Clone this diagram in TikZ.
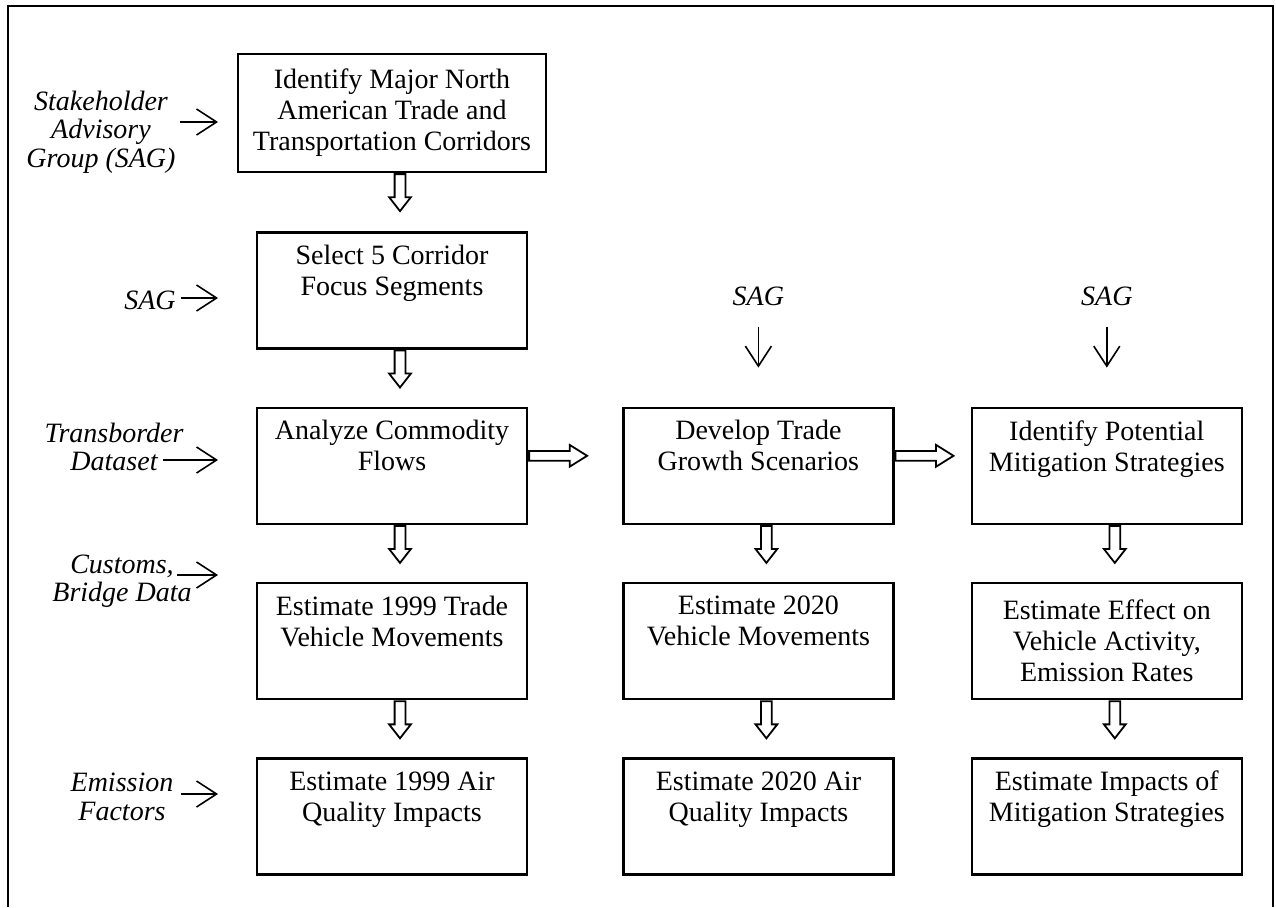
\documentclass[tikz,border=0pt]{standalone}
\usepackage{fontspec}
\setmainfont{Liberation Serif}
\usetikzlibrary{arrows.meta, positioning, shapes.arrows}

\begin{document}
\begin{tikzpicture}[x=0.5pt, y=-0.5pt, node distance=28.5pt and 47pt,
  box/.style={draw, line width=1.2pt, align=center, minimum width=135pt, minimum height=58pt, inner sep=2pt, font=\fontsize{14}{15.5}\selectfont},
  lab/.style={align=center, inner sep=0pt, font=\fontsize{14}{14.3}\selectfont\itshape},
  feed/.style={line width=0.8pt, -{Straight Barb[length=10pt, width=13pt]}},
  down/.style={single arrow, draw, fill=white, line width=0.9pt, inner sep=2.25pt, single arrow head extend=2.75pt, single arrow tip angle=76, minimum height=18.5pt, rotate=-90, anchor=tail},
  across/.style={single arrow, draw, fill=white, line width=0.9pt, inner sep=2pt, single arrow head extend=3pt, single arrow tip angle=64, minimum height=29pt, anchor=tail}]
\useasboundingbox (0,0) rectangle (1276,907);
\draw[line width=1.4pt] (8,907) -- (8,6) -- (1273,6) -- (1273,907);

\node[box, minimum width=154pt, minimum height=59pt] (c1r1) at (392,113) {Identify Major North\\American Trade and\\Transportation Corridors};
\node[box, below=29pt of c1r1] (c1r2) {Select 5 Corridor\\Focus Segments\\\strut};
\node[box, below=of c1r2] (c1r3) {Analyze Commodity\\Flows\\\strut};
\node[box, below=of c1r3] (c1r4) {Estimate 1999 Trade\\Vehicle Movements\\\strut};
\node[box, below=of c1r4] (c1r5) {Estimate 1999 Air\\Quality Impacts\\\strut};
\node[box, right=of c1r3] (c2r3) {Develop Trade\\Growth Scenarios\\\strut};
\node[box, below=of c2r3] (c2r4) {Estimate 2020\\Vehicle Movements\\\strut};
\node[box, below=of c2r4] (c2r5) {Estimate 2020 Air\\Quality Impacts\\\strut};
\node[box, right=38pt of c2r3] (c3r3) {Identify Potential\\Mitigation Strategies\\\strut};
\node[box, below=of c3r3] (c3r4) {Estimate Effect on\\Vehicle Activity,\\Emission Rates};
\node[box, below=of c3r4] (c3r5) {Estimate Impacts of\\Mitigation Strategies\\\strut};

\node[down] (a12) at ([xshift=4pt]c1r1.south) {};
\node[down] (a23) at ([xshift=4pt]c1r2.south) {};
\node[down] (a34) at ([xshift=4pt]c1r3.south) {};
\node[down] (a45) at ([xshift=4pt]c1r4.south) {};
\node[down] (b34) at ([xshift=4pt]c2r3.south) {};
\node[down] (b45) at ([xshift=4pt]c2r4.south) {};
\node[down] (d34) at ([xshift=4pt]c3r3.south) {};
\node[down] (d45) at ([xshift=4pt]c3r4.south) {};
\node[across] (h12) at ([yshift=5pt]c1r3.east) {};
\node[across] (h23) at ([yshift=5pt]c2r3.east) {};

\node[lab] (lab1) at (101,132) {Stakeholder\\Advisory\\Group (SAG)};
\node[lab] (lab2) at (150,300) {SAG};
\node[lab] (lab3) at (114,447) {Transborder\\Dataset};
\node[lab] (lab4) at (122,581) {Customs,\\Bridge Data};
\node[lab] (lab5) at (122,797) {Emission\\Factors};
\coordinate (f1) at (218,122);
\coordinate (f2) at (218,298);
\coordinate (f3) at (218,460);
\coordinate (f4) at (218,575);
\coordinate (f5) at (218,794);
\draw[feed] (lab1.east |- f1) ++(2pt,0) -- (f1);
\draw[feed] (lab2.east |- f2) ++(2.25pt,0) -- (f2);
\draw[feed] (lab3.east |- f3) ++(-10.5pt,0) -- (f3);
\draw[feed] (lab4.east |- f4) ++(-7.5pt,0) -- (f4);
\draw[feed] (lab5.east |- f5) ++(3.5pt,0) -- (f5);

\coordinate[above=19.5pt of c2r3.north] (t2);
\coordinate[above=19.5pt of c3r3.north] (t3);
\node[lab, above=30.5pt of t2] (sag2) {SAG};
\node[lab, above=30.5pt of t3] (sag3) {SAG};
\draw[feed, shorten <=10pt] (sag2) -- (t2);
\draw[feed, shorten <=10pt] (sag3) -- (t3);
\end{tikzpicture}
\end{document}
